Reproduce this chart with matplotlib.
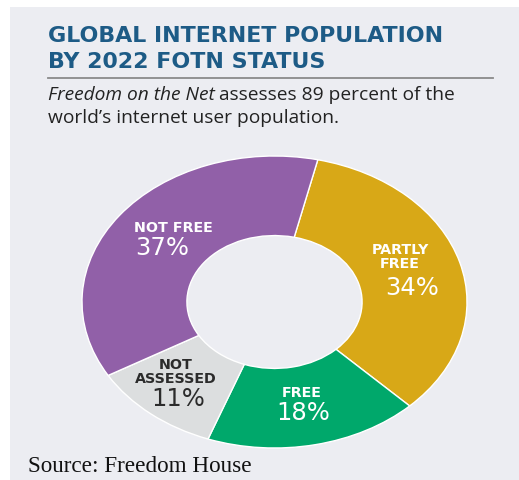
import matplotlib.pyplot as plt
from matplotlib.patches import Rectangle
from matplotlib.lines import Line2D

# data (clockwise from the top)
categories = ["PARTLY\nFREE", "FREE", "NOT\nASSESSED", "NOT FREE"]
shares = [34, 18, 11, 37]
colors = ["#D8A817", "#00A86B", "#DCDEDF", "#9160A8"]
label_colors = ["white", "white", "#2b2b2b", "white"]

W, H = 519, 481
fig = plt.figure(figsize=(W / 100, H / 100), dpi=100)
fig.patch.set_facecolor("white")

def fx(x):
    return x / W

def fy(y):
    return 1 - y / H

def fit(txt, target_px):
    # rescale a text so it is target_px wide
    fig.canvas.draw()
    w = txt.get_window_extent().width
    txt.set_fontsize(txt.get_fontsize() * target_px / w)
    return txt.get_fontsize()

# grey panel
fig.patches.append(Rectangle((fx(10), 0), 1, fy(8), transform=fig.transFigure,
                             facecolor="#ECEDF2", edgecolor="none", zorder=-10))

# title and rule
title_col = "#1D5B86"
t1 = fig.text(fx(48), fy(36), "GLOBAL INTERNET POPULATION", color=title_col, fontsize=14,
              fontweight="bold", family="DejaVu Sans", va="center", ha="left")
size = fit(t1, 397)
fig.text(fx(48), fy(62), "BY 2022 FOTN STATUS", color=title_col, fontsize=size,
         fontweight="bold", family="DejaVu Sans", va="center", ha="left")
fig.add_artist(Line2D([fx(48), fx(493)], [fy(79), fy(79)], color="#8a8a8a", lw=1.3,
                      transform=fig.transFigure))

# subtitle with italic part
sub_font = dict(family="Open Sans", fontsize=13.8, color="#222222", va="center", ha="left")
it = fig.text(fx(48), fy(95), "Freedom on the Net", style="italic", **sub_font)
fig.canvas.draw()
bb = it.get_window_extent()
fig.text(bb.x1 / W + 0.009, fy(95), "assesses 89 percent of the", **sub_font)
fig.text(fx(48), fy(118), "world\u2019s internet user population.", **sub_font)

# donut
ax = fig.add_axes([fx(82), fy(449), fx(467) - fx(82), (449 - 157) / H])
wedges, _ = ax.pie(shares, colors=colors, startangle=77, counterclock=False,
                   radius=1.0, wedgeprops=dict(width=0.545, edgecolor="white", linewidth=1))
ax.set_aspect("auto")
ax.set_xlim(-1, 1)
ax.set_ylim(-1, 1)
ax.axis("off")
for w in wedges:
    w.set_clip_on(False)

# labels (pixel positions of the category/percent text)
name_pos = [(400, 257), (302, 393), (176, 372), (173, 228)]
pct_pos = [(412, 288), (303, 413), (178, 399), (162, 248)]
for name, share, col, (nx, ny), (px, py) in zip(categories, shares, label_colors, name_pos, pct_pos):
    fig.text(fx(nx), fy(ny), name, color=col, fontsize=10.3, fontweight="bold",
             family="DejaVu Sans", ha="center", va="center", linespacing=1.0)
    fig.text(fx(px), fy(py), f"{share}%", color=col, fontsize=17.5,
             family="DejaVu Sans", ha="center", va="center")

src = fig.text(fx(28), fy(467), "Source: Freedom House", family="Liberation Serif",
               fontsize=16, color="#111111", ha="left", va="center")
fit(src, 224)

fig.savefig("out.png", dpi=100)
